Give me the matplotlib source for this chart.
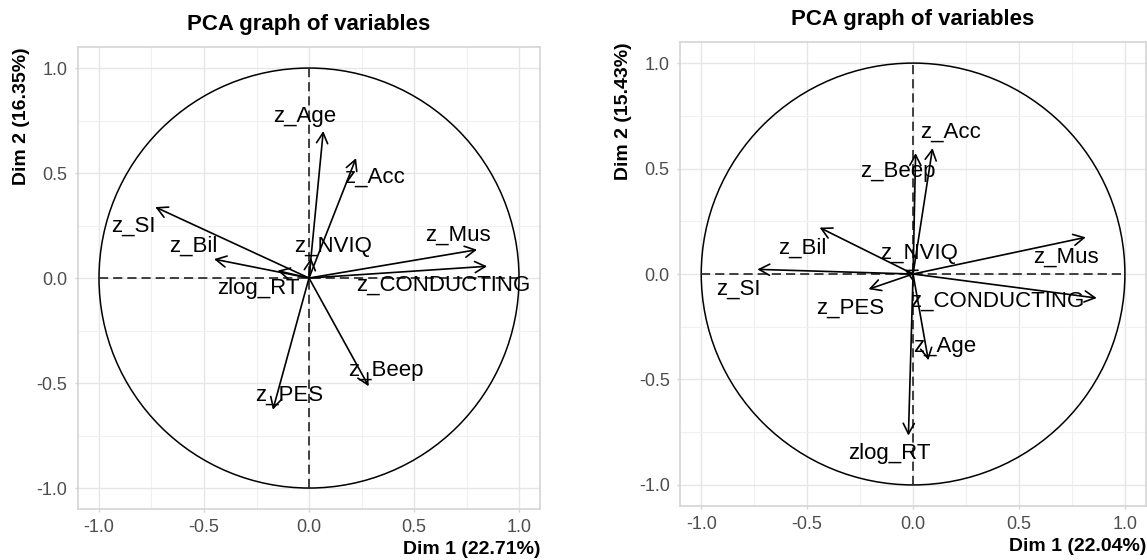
import matplotlib
matplotlib.use("Agg")
import matplotlib.pyplot as plt
from matplotlib.patches import Circle
from matplotlib.ticker import MultipleLocator

plt.rcParams['font.family'] = ['Liberation Sans', 'DejaVu Sans']
plt.rcParams['axes.unicode_minus'] = False

# left panel
names1 = ["z_Age", "z_Acc", "z_SI", "z_Bil", "z_Mus", "z_CONDUCTING",
          "z_NVIQ", "zlog_RT", "z_PES", "z_Beep"]
dim1_a = [0.068, 0.224, -0.732, -0.452, 0.800, 0.848, 0.010, -0.150, -0.172, 0.284]
dim2_a = [0.700, 0.571, 0.338, 0.090, 0.135, 0.056, 0.095, 0.035, -0.627, -0.515]
labx_a = [-0.02, 0.31, -0.834, -0.549, 0.709, 0.64, 0.114, -0.24, -0.093, 0.365]
laby_a = [0.77, 0.48, 0.246, 0.154, 0.203, -0.035, 0.151, -0.05, -0.56, -0.44]
xlab_a = "Dim 1 (22.71%)"
ylab_a = "Dim 2 (16.35%)"

# right panel
names2 = ["z_Acc", "z_Beep", "z_Bil", "z_Mus", "z_NVIQ", "z_SI", "z_PES",
          "z_CONDUCTING", "z_Age", "zlog_RT"]
dim1_b = [0.092, 0.012, -0.441, 0.815, -0.040, -0.735, -0.210, 0.867, 0.072, -0.022]
dim2_b = [0.597, 0.573, 0.220, 0.174, 0.020, 0.022, -0.072, -0.114, -0.409, -0.766]
labx_b = [0.178, -0.07, -0.523, 0.721, 0.03, -0.826, -0.296, 0.397, 0.149, -0.113]
laby_b = [0.671, 0.486, 0.122, 0.082, 0.095, -0.072, -0.163, -0.127, -0.342, -0.853]
xlab_b = "Dim 1 (22.04%)"
ylab_b = "Dim 2 (15.43%)"


def pca_panel(ax, names, xs, ys, lx, ly, xlabel, ylabel):
    ax.set_xlim(-1.1, 1.1)
    ax.set_ylim(-1.1, 1.1)
    ax.xaxis.set_major_locator(MultipleLocator(0.5))
    ax.yaxis.set_major_locator(MultipleLocator(0.5))
    ax.xaxis.set_minor_locator(MultipleLocator(0.25))
    ax.yaxis.set_minor_locator(MultipleLocator(0.25))
    ax.grid(which='major', color='#E6E6E6', lw=1.0)
    ax.grid(which='minor', color='#F0F0F0', lw=0.8)
    ax.set_axisbelow(True)
    for s in ax.spines.values():
        s.set_color('#D4D4D4')
        s.set_linewidth(1.2)
    ax.tick_params(which='major', length=2.5, width=1.0, color='#D4D4D4',
                   labelsize=13, labelcolor='#4D4D4D')
    ax.tick_params(which='minor', length=0)
    ax.tick_params(axis='x', pad=5)
    ax.tick_params(axis='y', pad=5)

    ax.add_patch(Circle((0, 0), 1, fill=False, color='black', lw=1.1))
    ax.hlines(0, -1, 1, colors='#222222', linestyles=(0, (5.5, 3)), lw=1.2)
    ax.vlines(0, -1, 1, colors='#222222', linestyles=(0, (5.5, 3)), lw=1.2)

    for n, x, y, tx, ty in zip(names, xs, ys, lx, ly):
        ax.annotate("", xy=(x, y), xytext=(0, 0),
                    arrowprops=dict(arrowstyle='->,head_length=0.75,head_width=0.4',
                                    color='black', lw=1.2, shrinkA=0, shrinkB=0))
        ax.text(tx, ty, n, fontsize=16, ha='center', va='center', color='black')

    ax.set_xlabel(xlabel, loc='right', fontsize=14, fontweight='bold', labelpad=3)
    ax.set_ylabel(ylabel, loc='top', fontsize=14, fontweight='bold', labelpad=5)


fig = plt.figure(figsize=(11.47, 5.6), dpi=100)
ax1 = fig.add_axes([0.068, 0.091, 0.4028, 0.825])
ax2 = fig.add_axes([0.5929, 0.0964, 0.4063, 0.8286])

pca_panel(ax1, names1, dim1_a, dim2_a, labx_a, laby_a, xlab_a, ylab_a)
pca_panel(ax2, names2, dim1_b, dim2_b, labx_b, laby_b, xlab_b, ylab_b)

ax1.set_title("PCA graph of variables", fontsize=16, fontweight='bold', pad=12)
ax2.set_title("PCA graph of variables", fontsize=16, fontweight='bold', pad=12)

fig.savefig("out.png", dpi=100)
